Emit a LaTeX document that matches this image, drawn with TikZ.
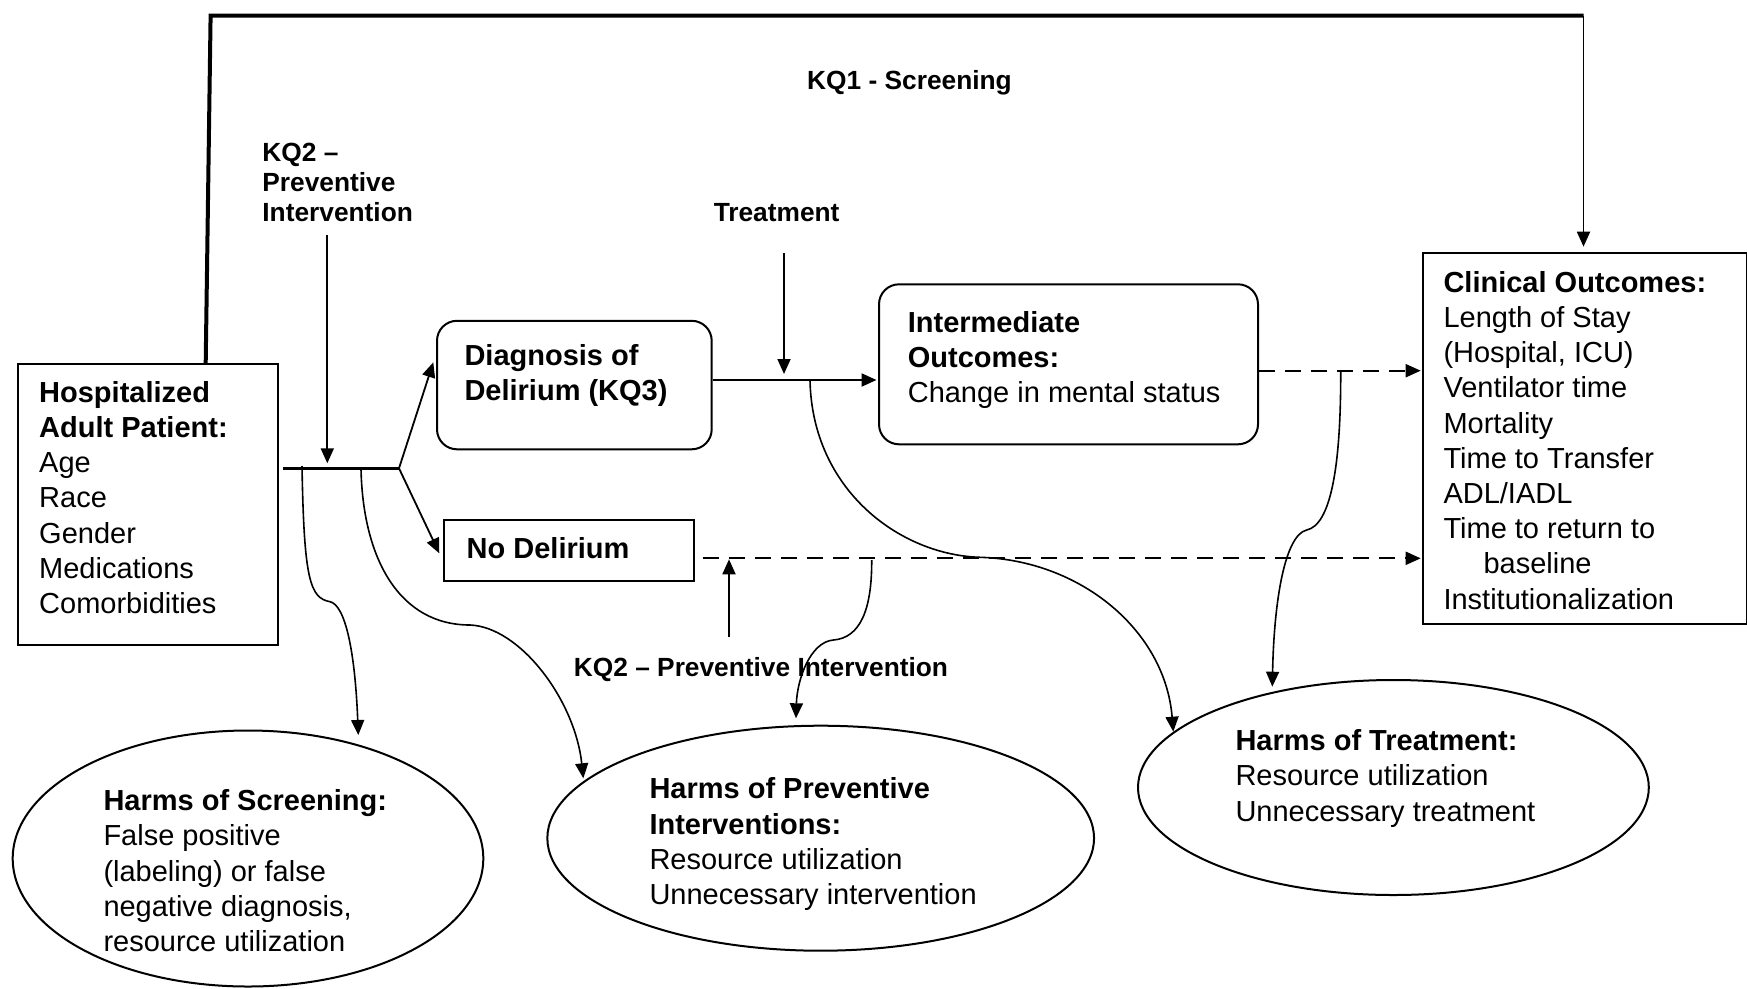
\documentclass[tikz,border=0pt]{standalone}
\usepackage{fontspec}
\setmainfont{Liberation Sans}
\usetikzlibrary{arrows.meta,shapes.geometric,calc}
\begin{document}
\begin{tikzpicture}[x=1pt,y=-1pt,
  boxst/.style={draw, line width=2pt, inner sep=0pt, anchor=north west},
  rbox/.style={boxst, rounded corners=20pt},
  ell/.style={draw, ellipse, line width=2pt, inner sep=0pt},
  body/.style={anchor=north west, inner sep=0pt, align=left, font=\fontsize{29}{35.2}\selectfont},
  lab/.style={inner sep=0pt, align=left, font=\bfseries\fontsize{26.3}{30}\selectfont},
  labone/.style={inner sep=0pt, font=\bfseries\fontsize{26.3}{30}\selectfont},
  tip/.style={-{Triangle[length=15pt,width=13pt]}},
  arr/.style={tip, line width=1.8pt},
  curve/.style={tip, line width=1.6pt},
  dashline/.style={tip, line width=2pt, dash pattern=on 16pt off 10pt},
  heavy/.style={line width=4pt, line join=miter}
]
\useasboundingbox (0,0) rectangle (1747,988);

% boxes
\node[boxst, minimum width=260.6pt, minimum height=280.7pt] (hosp) at (16.7,363.3) {};
\node[rbox, minimum width=274.7pt, minimum height=128.5pt] (diag) at (436,319.8) {};
\node[boxst, minimum width=250pt, minimum height=61.3pt] (nodel) at (443.3,518.7) {};
\node[rbox, minimum width=379pt, minimum height=160pt] (inter) at (878,283.3) {};
\node[boxst, minimum width=323.8pt, minimum height=370.4pt] (clin) at (1421.7,252.3) {};

% ellipses
\node[ell, minimum width=470.6pt, minimum height=256pt] (scr) at (248,858.5) {};
\node[ell, minimum width=546.7pt, minimum height=225pt] (prev) at (820.7,838.2) {};
\node[ell, minimum width=510.8pt, minimum height=215pt] (treat) at (1393.4,787.5) {};

% texts
\node[body] (hospt) at (39,377.5) {\strut\textbf{Hospitalized}\\\textbf{Adult Patient:}\\Age\\Race\\Gender\\Medications\\Comorbidities};
\node[body] (diagt) at (464.3,340.8) {\strut\textbf{Diagnosis of}\\\textbf{Delirium (KQ3)}};
\node[body] (nodelt) at (466.5,534.1) {\strut\textbf{No Delirium}};
\node[body] (intert) at (907.6,307.5) {\strut\textbf{Intermediate}\\\textbf{Outcomes:}\\Change in mental status};
\node[body] (clint) at (1443.3,267.5) {\strut\textbf{Clinical Outcomes:}\\Length of Stay\\{(Hospital, ICU)}\\Ventilator time\\Mortality\\Time to Transfer\\ADL/IADL\\Time to return to\\\hspace*{40pt}baseline\\Institutionalization};
\node[body] (scrt) at (103.3,785.8) {\strut\textbf{Harms of Screening:}\\False positive\\{(labeling) or false}\\negative diagnosis,\\resource utilization};
\node[body] (prevt) at (649.3,774.1) {\strut\textbf{Harms of Preventive}\\\textbf{Interventions:}\\Resource utilization\\Unnecessary intervention};
\node[body] (treatt) at (1235.3,725.8) {\strut\textbf{Harms of Treatment:}\\Resource utilization\\Unnecessary treatment};

% labels
\node[lab, anchor=north west] (kq2t) at (262.2,140.1) {\strut KQ2 –\\Preventive\\Intervention};
\node[labone, anchor=base] (kq1) at (909.5,89.6) {KQ1 - Screening};
\node[labone, anchor=base] (treatl) at (776.6,221.1) {Treatment};
\node[labone, anchor=base] (kq2b) at (761,676.1) {KQ2 – Preventive Intervention};

% coordinates
\coordinate (tl) at (210.6,15.6);
\coordinate (tr) at (1583.5,15.6);
\coordinate (jl) at (282.7,468.3);
\coordinate (jr) at (399,468.3);
\coordinate (kq2s) at (327.3,235);
\coordinate (d1) at ($(diag.north east)+(0,60.2)$);
\coordinate (ts) at (784,253);
\coordinate (u1) at ($(inter.north east)+(0,87.4)$);
\coordinate (l1) at ($(nodel.north east)+(7.7,39.6)$);
\coordinate (ua) at (729,636.7);

% top KQ1 bracket
\draw[heavy] ($(hosp.north west)+(189,0)$) -- (tl) -- (tr);
\draw[arr, shorten >=5.6pt] (tr) -- (tr |- clin.north);

% junction and branches
\draw[line width=3pt] (jl) -- (jr);
\draw[arr, shorten >=5pt] (kq2s) -- (kq2s |- jl);
\draw[arr] (jr) -- ($(diag.north west)+(-2.7,42.5)$);
\draw[arr] (jr) -- ($(nodel.north west)+(-4,34.6)$);

% diagnosis to intermediate, treatment
\draw[arr, line width=2.2pt, shorten >=1.5pt] (d1) -- (d1 -| inter.west);
\draw[arr, shorten >=6pt] (ts) -- (ts |- d1);

% dashed arrows to clinical outcomes
\draw[dashline, shorten >=1pt] (u1) -- (u1 -| clin.west);
\draw[dashline, shorten >=1pt] (l1) -- (l1 -| clin.west);
\draw[arr, shorten >=1pt] (ua) -- (ua |- l1);

% harm curves
\coordinate (c1s) at (302,466);
\coordinate (c1e) at (358.3,735);
\draw[curve] (c1s) .. controls (304,580) and (310,598) .. (330,601.7) .. controls (345,605) and (355,650) .. (c1e);
\coordinate (c2s) at (361,469);
\coordinate (c2e) at (583.3,778.3);
\draw[curve] (c2s) .. controls (363,560) and (400,625) .. (470,625) .. controls (520,627) and (575,700) .. (c2e);
\coordinate (c3s) at (871.7,560);
\coordinate (c3e) at (796,718.3);
\draw[curve] (c3s) .. controls (872,610) and (860,638) .. (833.3,640) .. controls (810,642) and (797,680) .. (c3e);
\coordinate (c4s) at (810,380);
\coordinate (c4e) at (1173.3,731.7);
\draw[curve] (c4s) .. controls (812,490) and (900,555) .. (980,557.3) .. controls (1080,560) and (1165,630) .. (c4e);
\coordinate (c5s) at (1340.7,370.7);
\coordinate (c5e) at (1272.3,686.7);
\draw[curve] (c5s) .. controls (1341,470) and (1330,525) .. (1306.7,530) .. controls (1285,535) and (1274,600) .. (c5e);
\end{tikzpicture}
\end{document}
